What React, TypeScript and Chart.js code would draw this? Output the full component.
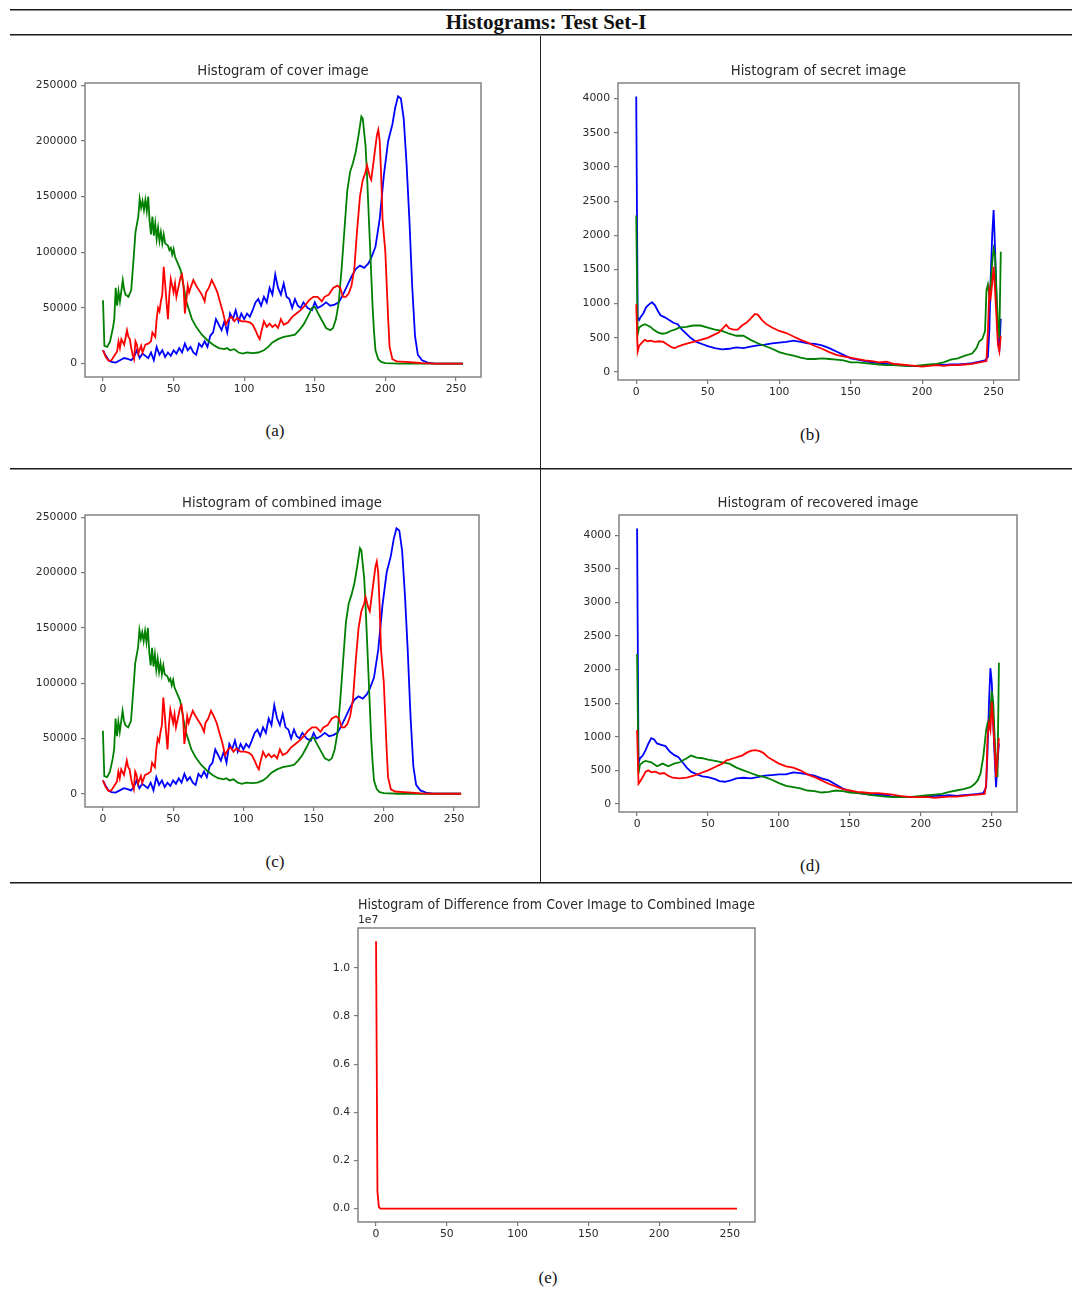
import React, { useEffect, useRef } from "react";
import { Chart, registerables } from "chart.js";

Chart.register(...registerables);

type Pt = [number, number];

// ---------- tick labels ----------
const xTicks = [0, 50, 100, 150, 200, 250];
const pixelYTicks = [0, 50000, 100000, 150000, 200000, 250000];
const secretYTicks = [0, 500, 1000, 1500, 2000, 2500, 3000, 3500, 4000];
const diffYTicks = [0, 2000000, 4000000, 6000000, 8000000, 10000000];

// ---------- (a) cover image ----------
const coverBlue: Pt[] = [
  [0, 12000], [2, 7000], [4, 3000], [6, 1500], [9, 1000], [12, 3000], [15, 5000], [18, 4000], [20, 3000],
  [22, 6000], [24, 12000], [26, 5000], [28, 9000], [30, 7000], [32, 5000], [34, 10000], [36, 3000], [38, 15000],
  [40, 8000], [42, 12000], [44, 6000], [46, 10000], [48, 7000], [50, 12000], [52, 9000], [54, 14000], [56, 10000],
  [58, 18000], [60, 12000], [62, 15000], [64, 10000], [66, 8000], [68, 18000], [70, 15000], [72, 20000], [74, 15000],
  [76, 25000], [78, 28000], [80, 40000], [82, 35000], [84, 30000], [86, 38000], [88, 28000], [90, 45000], [92, 40000],
  [94, 48000], [96, 38000], [98, 45000], [100, 40000], [102, 45000], [104, 42000], [106, 48000], [108, 55000],
  [110, 58000], [112, 52000], [114, 60000], [116, 55000], [118, 68000], [120, 62000], [122, 80000], [124, 68000],
  [126, 62000], [128, 72000], [130, 60000], [132, 58000], [134, 50000], [136, 58000], [138, 52000], [140, 50000],
  [142, 55000], [145, 50000], [148, 48000], [150, 55000], [152, 50000], [155, 52000], [158, 55000], [161, 52000],
  [164, 53000], [167, 55000], [170, 62000], [173, 70000], [176, 78000], [179, 85000], [182, 88000], [185, 86000],
  [188, 90000], [190, 95000], [193, 105000], [196, 130000], [199, 170000], [202, 200000], [205, 215000],
  [207, 230000], [209, 240000], [211, 238000], [213, 220000], [215, 180000], [217, 130000], [219, 70000],
  [221, 25000], [223, 8000], [226, 3000], [230, 1000], [235, 0], [255, 0],
];
const coverGreen: Pt[] = [
  [0, 57000], [1, 16000], [3, 15000], [5, 20000], [7, 32000], [8, 40000], [9, 68000], [10, 52000], [11, 65000],
  [12, 56000], [14, 75000], [15, 66000], [16, 62000], [18, 60000], [20, 66000], [22, 100000], [23, 118000],
  [24, 125000], [25, 132000], [26, 148000], [27, 140000], [28, 146000], [29, 138000], [30, 147000], [31, 137000],
  [32, 150000], [33, 128000], [34, 116000], [35, 132000], [36, 115000], [37, 126000], [38, 112000], [39, 122000],
  [40, 110000], [41, 118000], [42, 108000], [43, 116000], [44, 108000], [46, 106000], [47, 102000], [48, 104000],
  [49, 98000], [50, 103000], [51, 96000], [53, 90000], [55, 84000], [57, 70000], [59, 56000], [61, 48000],
  [63, 40000], [66, 33000], [70, 26000], [74, 21000], [78, 17000], [82, 14000], [86, 13000], [88, 14000],
  [90, 12000], [93, 13000], [96, 10000], [99, 9000], [102, 10000], [106, 9500], [110, 10000], [114, 12000],
  [117, 15000], [120, 19000], [124, 22000], [128, 24000], [132, 25000], [136, 26000], [139, 30000], [142, 35000],
  [145, 42000], [148, 50000], [150, 51000], [152, 46000], [155, 39000], [158, 32000], [161, 30000], [163, 32000],
  [165, 40000], [167, 55000], [169, 85000], [171, 120000], [173, 155000], [175, 172000], [177, 180000],
  [179, 190000], [181, 205000], [183, 222000], [184, 220000], [186, 195000], [187, 170000], [188, 140000],
  [189, 110000], [190, 80000], [191, 50000], [192, 28000], [193, 12000], [195, 4000], [197, 1500], [200, 500],
  [210, 0], [255, 0],
];
const coverRed: Pt[] = [
  [0, 12000], [2, 6000], [4, 2500], [6, 3000], [8, 7000], [10, 11000], [11, 20000], [12, 14000], [13, 22000],
  [15, 17000], [17, 30000], [18, 24000], [19, 22000], [20, 14000], [21, 8000], [22, 4000], [23, 20000],
  [24, 17000], [25, 9000], [27, 16000], [28, 10000], [30, 17000], [32, 18000], [34, 20000], [35, 28000],
  [37, 24000], [38, 40000], [39, 50000], [40, 47000], [41, 56000], [42, 62000], [43, 87000], [44, 72000],
  [45, 55000], [46, 40000], [47, 62000], [48, 76000], [49, 70000], [50, 64000], [51, 72000], [52, 60000],
  [53, 66000], [55, 78000], [56, 80000], [57, 70000], [58, 45000], [59, 56000], [60, 70000], [61, 64000],
  [62, 68000], [64, 75000], [66, 70000], [68, 66000], [70, 62000], [72, 56000], [73, 64000], [75, 68000],
  [77, 75000], [79, 70000], [81, 64000], [83, 55000], [85, 46000], [87, 35000], [89, 40000], [91, 42000],
  [93, 38000], [95, 41000], [98, 38000], [101, 38000], [104, 37000], [106, 35000], [108, 30000], [110, 24000],
  [111, 22000], [112, 28000], [114, 38000], [116, 33000], [118, 36000], [120, 33000], [122, 35000], [124, 32000],
  [126, 40000], [128, 35000], [131, 37000], [134, 42000], [137, 45000], [140, 48000], [143, 52000], [146, 57000],
  [149, 60000], [152, 60000], [155, 56000], [157, 60000], [160, 62000], [163, 68000], [166, 70000], [168, 68000],
  [170, 60000], [172, 60000], [174, 63000], [176, 70000], [178, 85000], [180, 120000], [182, 150000],
  [184, 165000], [186, 172000], [187, 178000], [189, 168000], [190, 165000], [192, 185000], [194, 205000],
  [195, 210000], [196, 200000], [197, 170000], [198, 130000], [199, 115000], [200, 100000], [201, 70000],
  [202, 40000], [203, 15000], [205, 4000], [208, 2000], [214, 1500], [220, 1000], [226, 400], [235, 0], [255, 0],
];

// ---------- (b) secret image ----------
const secretBlue: Pt[] = [
  [0, 4030], [1, 800], [2, 760], [3, 800], [5, 860], [7, 950], [9, 990], [11, 1020], [13, 980], [15, 900],
  [17, 830], [20, 800], [23, 760], [26, 720], [29, 700], [32, 620], [35, 560], [38, 500], [42, 440], [46, 410],
  [50, 380], [55, 350], [60, 330], [65, 340], [70, 360], [75, 350], [80, 370], [85, 390], [90, 400], [95, 420],
  [100, 430], [105, 440], [110, 460], [115, 440], [120, 420], [125, 410], [130, 390], [135, 350], [140, 300],
  [145, 250], [150, 200], [155, 180], [160, 160], [165, 140], [170, 130], [175, 120], [180, 110], [185, 100],
  [190, 90], [195, 85], [200, 85], [205, 100], [210, 110], [215, 105], [220, 110], [225, 110], [230, 120],
  [235, 130], [240, 150], [244, 170], [246, 220], [247, 600], [248, 1400], [249, 2000], [250, 2370], [251, 1800],
  [252, 1000], [253, 500], [254, 300], [255, 780],
];
const secretGreen: Pt[] = [
  [0, 2290], [1, 550], [2, 650], [4, 680], [6, 700], [8, 680], [10, 660], [12, 620], [15, 580], [18, 560],
  [21, 570], [24, 600], [27, 620], [30, 650], [35, 660], [40, 680], [45, 680], [50, 650], [55, 620], [60, 600],
  [65, 560], [70, 530], [75, 530], [80, 470], [85, 420], [90, 380], [95, 340], [100, 290], [105, 260], [110, 240],
  [115, 210], [120, 190], [125, 190], [130, 200], [135, 190], [140, 180], [145, 170], [150, 140], [155, 140],
  [160, 130], [165, 120], [170, 110], [175, 100], [180, 100], [185, 95], [190, 90], [195, 90], [200, 100],
  [205, 110], [210, 120], [215, 140], [220, 180], [225, 200], [230, 240], [235, 270], [238, 350], [240, 450],
  [242, 480], [244, 600], [245, 1200], [246, 1280], [247, 1100], [248, 1300], [249, 1600], [250, 1800],
  [251, 1700], [252, 1200], [253, 700], [254, 500], [255, 1760],
];
const secretRed: Pt[] = [
  [0, 990], [1, 300], [2, 380], [4, 430], [6, 470], [8, 450], [10, 460], [13, 440], [16, 450], [19, 440],
  [22, 400], [25, 360], [27, 350], [30, 380], [33, 400], [36, 420], [40, 440], [45, 470], [50, 500], [55, 550],
  [58, 580], [61, 650], [63, 690], [65, 640], [68, 620], [71, 620], [74, 680], [77, 720], [80, 780], [83, 850],
  [85, 840], [88, 760], [91, 700], [95, 650], [100, 600], [105, 570], [110, 520], [115, 470], [120, 430],
  [125, 380], [130, 340], [135, 290], [140, 250], [145, 230], [150, 210], [155, 190], [160, 170], [165, 160],
  [170, 140], [175, 150], [180, 120], [185, 110], [190, 100], [195, 90], [200, 80], [205, 90], [210, 100],
  [215, 90], [220, 100], [225, 100], [230, 110], [235, 120], [240, 140], [245, 160], [246, 600], [247, 1200],
  [248, 1100], [249, 1300], [250, 1540], [251, 1200], [252, 800], [253, 400], [254, 300], [255, 530],
];

// ---------- (c) combined image (visually identical to the cover histogram) ----------
const combinedBlue: Pt[] = coverBlue;
const combinedGreen: Pt[] = coverGreen;
const combinedRed: Pt[] = coverRed;

// ---------- (d) recovered image ----------
const recoveredBlue: Pt[] = [
  [0, 4100], [1, 600], [2, 680], [4, 720], [6, 800], [8, 900], [10, 980], [12, 960], [14, 900], [17, 880],
  [20, 860], [23, 780], [26, 730], [29, 700], [32, 620], [35, 540], [38, 480], [42, 440], [46, 410], [50, 400],
  [55, 370], [58, 340], [62, 330], [66, 350], [70, 380], [75, 390], [80, 380], [85, 400], [90, 420], [95, 430],
  [100, 440], [105, 440], [110, 470], [115, 460], [120, 440], [125, 420], [130, 380], [135, 350], [140, 290],
  [145, 230], [150, 190], [155, 170], [160, 150], [165, 140], [170, 140], [175, 130], [180, 110], [185, 110],
  [190, 100], [195, 100], [200, 100], [205, 110], [210, 120], [215, 120], [220, 130], [225, 120], [230, 130],
  [235, 140], [240, 150], [244, 160], [246, 250], [247, 800], [248, 1500], [249, 2020], [250, 1800], [251, 1200],
  [252, 700], [253, 250], [254, 600], [255, 900],
];
const recoveredGreen: Pt[] = [
  [0, 2230], [1, 450], [2, 580], [4, 620], [6, 640], [10, 620], [14, 560], [18, 600], [22, 560], [26, 600],
  [30, 620], [35, 680], [38, 720], [42, 690], [46, 680], [50, 660], [55, 640], [60, 620], [65, 600], [70, 540],
  [75, 500], [80, 460], [85, 420], [90, 400], [95, 360], [100, 310], [105, 270], [110, 250], [115, 230],
  [120, 200], [125, 190], [130, 170], [135, 180], [140, 200], [145, 190], [150, 170], [155, 160], [160, 150],
  [165, 130], [170, 120], [175, 110], [180, 100], [185, 100], [190, 100], [195, 110], [200, 120], [205, 130],
  [210, 140], [215, 150], [220, 180], [225, 200], [230, 220], [235, 250], [238, 300], [240, 350], [242, 450],
  [244, 700], [246, 1100], [247, 1200], [248, 1150], [249, 1400], [250, 1680], [251, 1500], [252, 1000],
  [253, 600], [254, 400], [255, 2100],
];
const recoveredRed: Pt[] = [
  [0, 1100], [1, 300], [2, 330], [4, 400], [6, 480], [8, 500], [10, 470], [13, 480], [16, 450], [19, 460],
  [22, 420], [25, 390], [30, 380], [35, 390], [40, 420], [45, 460], [50, 500], [55, 550], [60, 600], [63, 650],
  [65, 660], [68, 680], [71, 700], [74, 720], [77, 760], [80, 790], [83, 800], [86, 790], [89, 760], [92, 700],
  [95, 660], [100, 600], [105, 560], [110, 540], [115, 500], [120, 440], [125, 400], [130, 350], [135, 300],
  [140, 260], [145, 220], [150, 200], [155, 180], [160, 170], [165, 160], [170, 160], [175, 150], [180, 140],
  [185, 120], [190, 110], [195, 100], [200, 100], [205, 100], [210, 90], [215, 100], [220, 110], [225, 110],
  [230, 120], [235, 130], [240, 140], [245, 150], [246, 300], [247, 1000], [248, 1200], [249, 1100], [250, 1520],
  [251, 1200], [252, 800], [253, 400], [254, 700], [255, 980],
];

// ---------- (e) difference cover -> combined ----------
const diffRed: Pt[] = [[0, 11100000], [1, 700000], [2, 60000], [3, 5000], [5, 0], [255, 0]];

// ---------- layout ----------
const PADL = 80;
const PADR = 12;
const PADT = 44;
const PADB = 30;
const AXIS_GRAY = "#7a7a7a";
const TEXT_DARK = "#2a2a2a";
const TITLE_SIZE = 13.2;

type SeriesDef = { data: Pt[]; color: string };
type PanelDef = {
  title: string;
  box: { L: number; T: number; R: number; B: number };
  titleGap: number;
  yMin: number;
  yMax: number;
  yTicks: number[];
  yFmt: (v: number) => string;
  offsetText?: string;
  series: SeriesDef[];
};

const boxPlugin = {
  id: "mplBox",
  afterDraw(chart: any, _args: any, opts: any) {
    const { ctx, chartArea } = chart;
    ctx.save();
    ctx.strokeStyle = AXIS_GRAY;
    ctx.lineWidth = 1.4;
    ctx.strokeRect(chartArea.left, chartArea.top, chartArea.right - chartArea.left, chartArea.bottom - chartArea.top);
    if (opts && opts.offsetText) {
      ctx.fillStyle = TEXT_DARK;
      ctx.font = "10.8px 'DejaVu Sans'";
      ctx.textAlign = "left";
      ctx.textBaseline = "bottom";
      ctx.fillText(opts.offsetText, chartArea.left, chartArea.top - 2);
    }
    ctx.restore();
  },
};

function Panel({ def }: { def: PanelDef }) {
  const ref = useRef<HTMLCanvasElement>(null);
  const { L, T, R, B } = def.box;
  const width = R - L + PADL + PADR;
  const height = B - T + PADT + PADB;
  useEffect(() => {
    const tickFont = { family: "'DejaVu Sans'", size: 10.8 };
    const lh = TITLE_SIZE * 1.2;
    const padBottom = def.titleGap - lh / 2;
    const chart = new Chart(ref.current as HTMLCanvasElement, {
      type: "line",
      data: {
        datasets: def.series.map((s) => ({
          data: s.data.map(([x, y]) => ({ x, y })),
          borderColor: s.color,
          backgroundColor: s.color,
          borderWidth: 1.8,
          pointRadius: 0,
          tension: 0,
          fill: false,
        })),
      },
      options: {
        responsive: false,
        animation: false,
        events: [],
        layout: { padding: { left: 0, right: PADR, top: 0, bottom: 0 } },
        plugins: {
          legend: { display: false },
          tooltip: { enabled: false },
          title: {
            display: true,
            text: def.title,
            fullSize: false,
            color: TEXT_DARK,
            font: { family: "'DejaVu Sans'", size: TITLE_SIZE, weight: "normal", lineHeight: 1.2 },
            padding: { top: PADT - lh - padBottom, bottom: padBottom },
          },
          mplBox: { offsetText: def.offsetText },
        } as any,
        scales: {
          x: {
            type: "linear",
            position: "bottom",
            min: -12.75,
            max: 267.75,
            afterBuildTicks: (axis: any) => {
              axis.ticks = xTicks.map((v) => ({ value: v }));
            },
            afterFit: (axis: any) => {
              axis.height = PADB;
            },
            grid: { display: true, drawOnChartArea: false, drawTicks: true, tickLength: 4, color: AXIS_GRAY, lineWidth: 1.2 },
            border: { display: false },
            ticks: { font: tickFont, color: TEXT_DARK, padding: 2, maxRotation: 0, autoSkip: false, callback: (v: any) => String(v) },
          },
          y: {
            type: "linear",
            position: "left",
            min: def.yMin,
            max: def.yMax,
            afterBuildTicks: (axis: any) => {
              axis.ticks = def.yTicks.map((v) => ({ value: v }));
            },
            afterFit: (axis: any) => {
              axis.width = PADL;
            },
            grid: { display: true, drawOnChartArea: false, drawTicks: true, tickLength: 4, color: AXIS_GRAY, lineWidth: 1.2 },
            border: { display: false },
            ticks: { font: tickFont, color: TEXT_DARK, padding: 4, autoSkip: false, callback: (v: any) => def.yFmt(Number(v)) },
          },
        },
      },
      plugins: [boxPlugin],
    });
    return () => chart.destroy();
  }, []);
  return (
    <canvas
      ref={ref}
      width={width}
      height={height}
      style={{ position: "absolute", left: L - PADL, top: T - PADT, width, height }}
    />
  );
}

const BLUE = "#0000ff";
const GREEN = "#008000";
const RED = "#ff0000";

const intFmt = (v: number) => String(Math.round(v));
const e7Fmt = (v: number) => (v / 1e7).toFixed(1);

const panels: PanelDef[] = [
  {
    title: "Histogram of cover image",
    box: { L: 85, T: 83, R: 481, B: 377 },
    titleGap: 11.5,
    yMin: -12000, yMax: 252000, yTicks: pixelYTicks, yFmt: intFmt,
    series: [{ data: coverRed, color: RED }, { data: coverGreen, color: GREEN }, { data: coverBlue, color: BLUE }],
  },
  {
    title: "Histogram of secret image",
    box: { L: 618, T: 83, R: 1019, B: 380 },
    titleGap: 11.5,
    yMin: -117, yMax: 4228, yTicks: secretYTicks, yFmt: intFmt,
    series: [{ data: secretRed, color: RED }, { data: secretGreen, color: GREEN }, { data: secretBlue, color: BLUE }],
  },
  {
    title: "Histogram of combined image",
    box: { L: 85, T: 515, R: 479, B: 807 },
    titleGap: 11.5,
    yMin: -12000, yMax: 252000, yTicks: pixelYTicks, yFmt: intFmt,
    series: [{ data: combinedRed, color: RED }, { data: combinedGreen, color: GREEN }, { data: combinedBlue, color: BLUE }],
  },
  {
    title: "Histogram of recovered image",
    box: { L: 619, T: 515, R: 1017, B: 812 },
    titleGap: 11.5,
    yMin: -120, yMax: 4300, yTicks: secretYTicks, yFmt: intFmt,
    series: [{ data: recoveredRed, color: RED }, { data: recoveredGreen, color: GREEN }, { data: recoveredBlue, color: BLUE }],
  },
  {
    title: "Histogram of Difference from Cover Image to Combined Image",
    box: { L: 358, T: 928, R: 755, B: 1222 },
    titleGap: 22.5,
    yMin: -555000, yMax: 11655000, yTicks: diffYTicks, yFmt: e7Fmt,
    offsetText: "1e7",
    series: [{ data: diffRed, color: RED }],
  },
];

const labels = [
  { text: "(a)", x: 275, y: 431 },
  { text: "(b)", x: 810, y: 435 },
  { text: "(c)", x: 275, y: 862 },
  { text: "(d)", x: 810, y: 866 },
  { text: "(e)", x: 548, y: 1278 },
];

function HLine({ y, x0 = 10, x1 = 1072 }: { y: number; x0?: number; x1?: number }) {
  return (
    <>
      <div style={{ position: "absolute", left: x0, top: y, width: x1 - x0, height: 1, background: "#1a1a1a" }} />
      <div style={{ position: "absolute", left: x0, top: y + 1, width: x1 - x0, height: 1, background: "#8a8a8a" }} />
    </>
  );
}

export default function App() {
  return (
    <div style={{ position: "absolute", left: 0, top: 0, width: 1072, height: 1290, background: "#fff", overflow: "hidden" }}>
      <HLine y={9} />
      <div
        style={{
          position: "absolute", left: 0, width: 1092, top: 9, height: 26, lineHeight: "26px",
          textAlign: "center", fontFamily: "'Liberation Serif', 'Times New Roman', serif",
          fontWeight: "bold", fontSize: 21, color: "#111",
        }}
      >
        Histograms: Test Set-I
      </div>
      <HLine y={34} />
      <HLine y={468} />
      <HLine y={882} />
      <div style={{ position: "absolute", left: 540, top: 36, width: 1, height: 846, background: "#222" }} />
      {panels.map((p, i) => (
        <Panel key={i} def={p} />
      ))}
      {labels.map((l, i) => (
        <div
          key={i}
          style={{
            position: "absolute", left: l.x - 30, top: l.y - 11, width: 60, height: 22, lineHeight: "22px",
            textAlign: "center", fontFamily: "'Liberation Serif', 'Times New Roman', serif", fontSize: 17, color: "#111",
          }}
        >
          {l.text}
        </div>
      ))}
    </div>
  );
}
